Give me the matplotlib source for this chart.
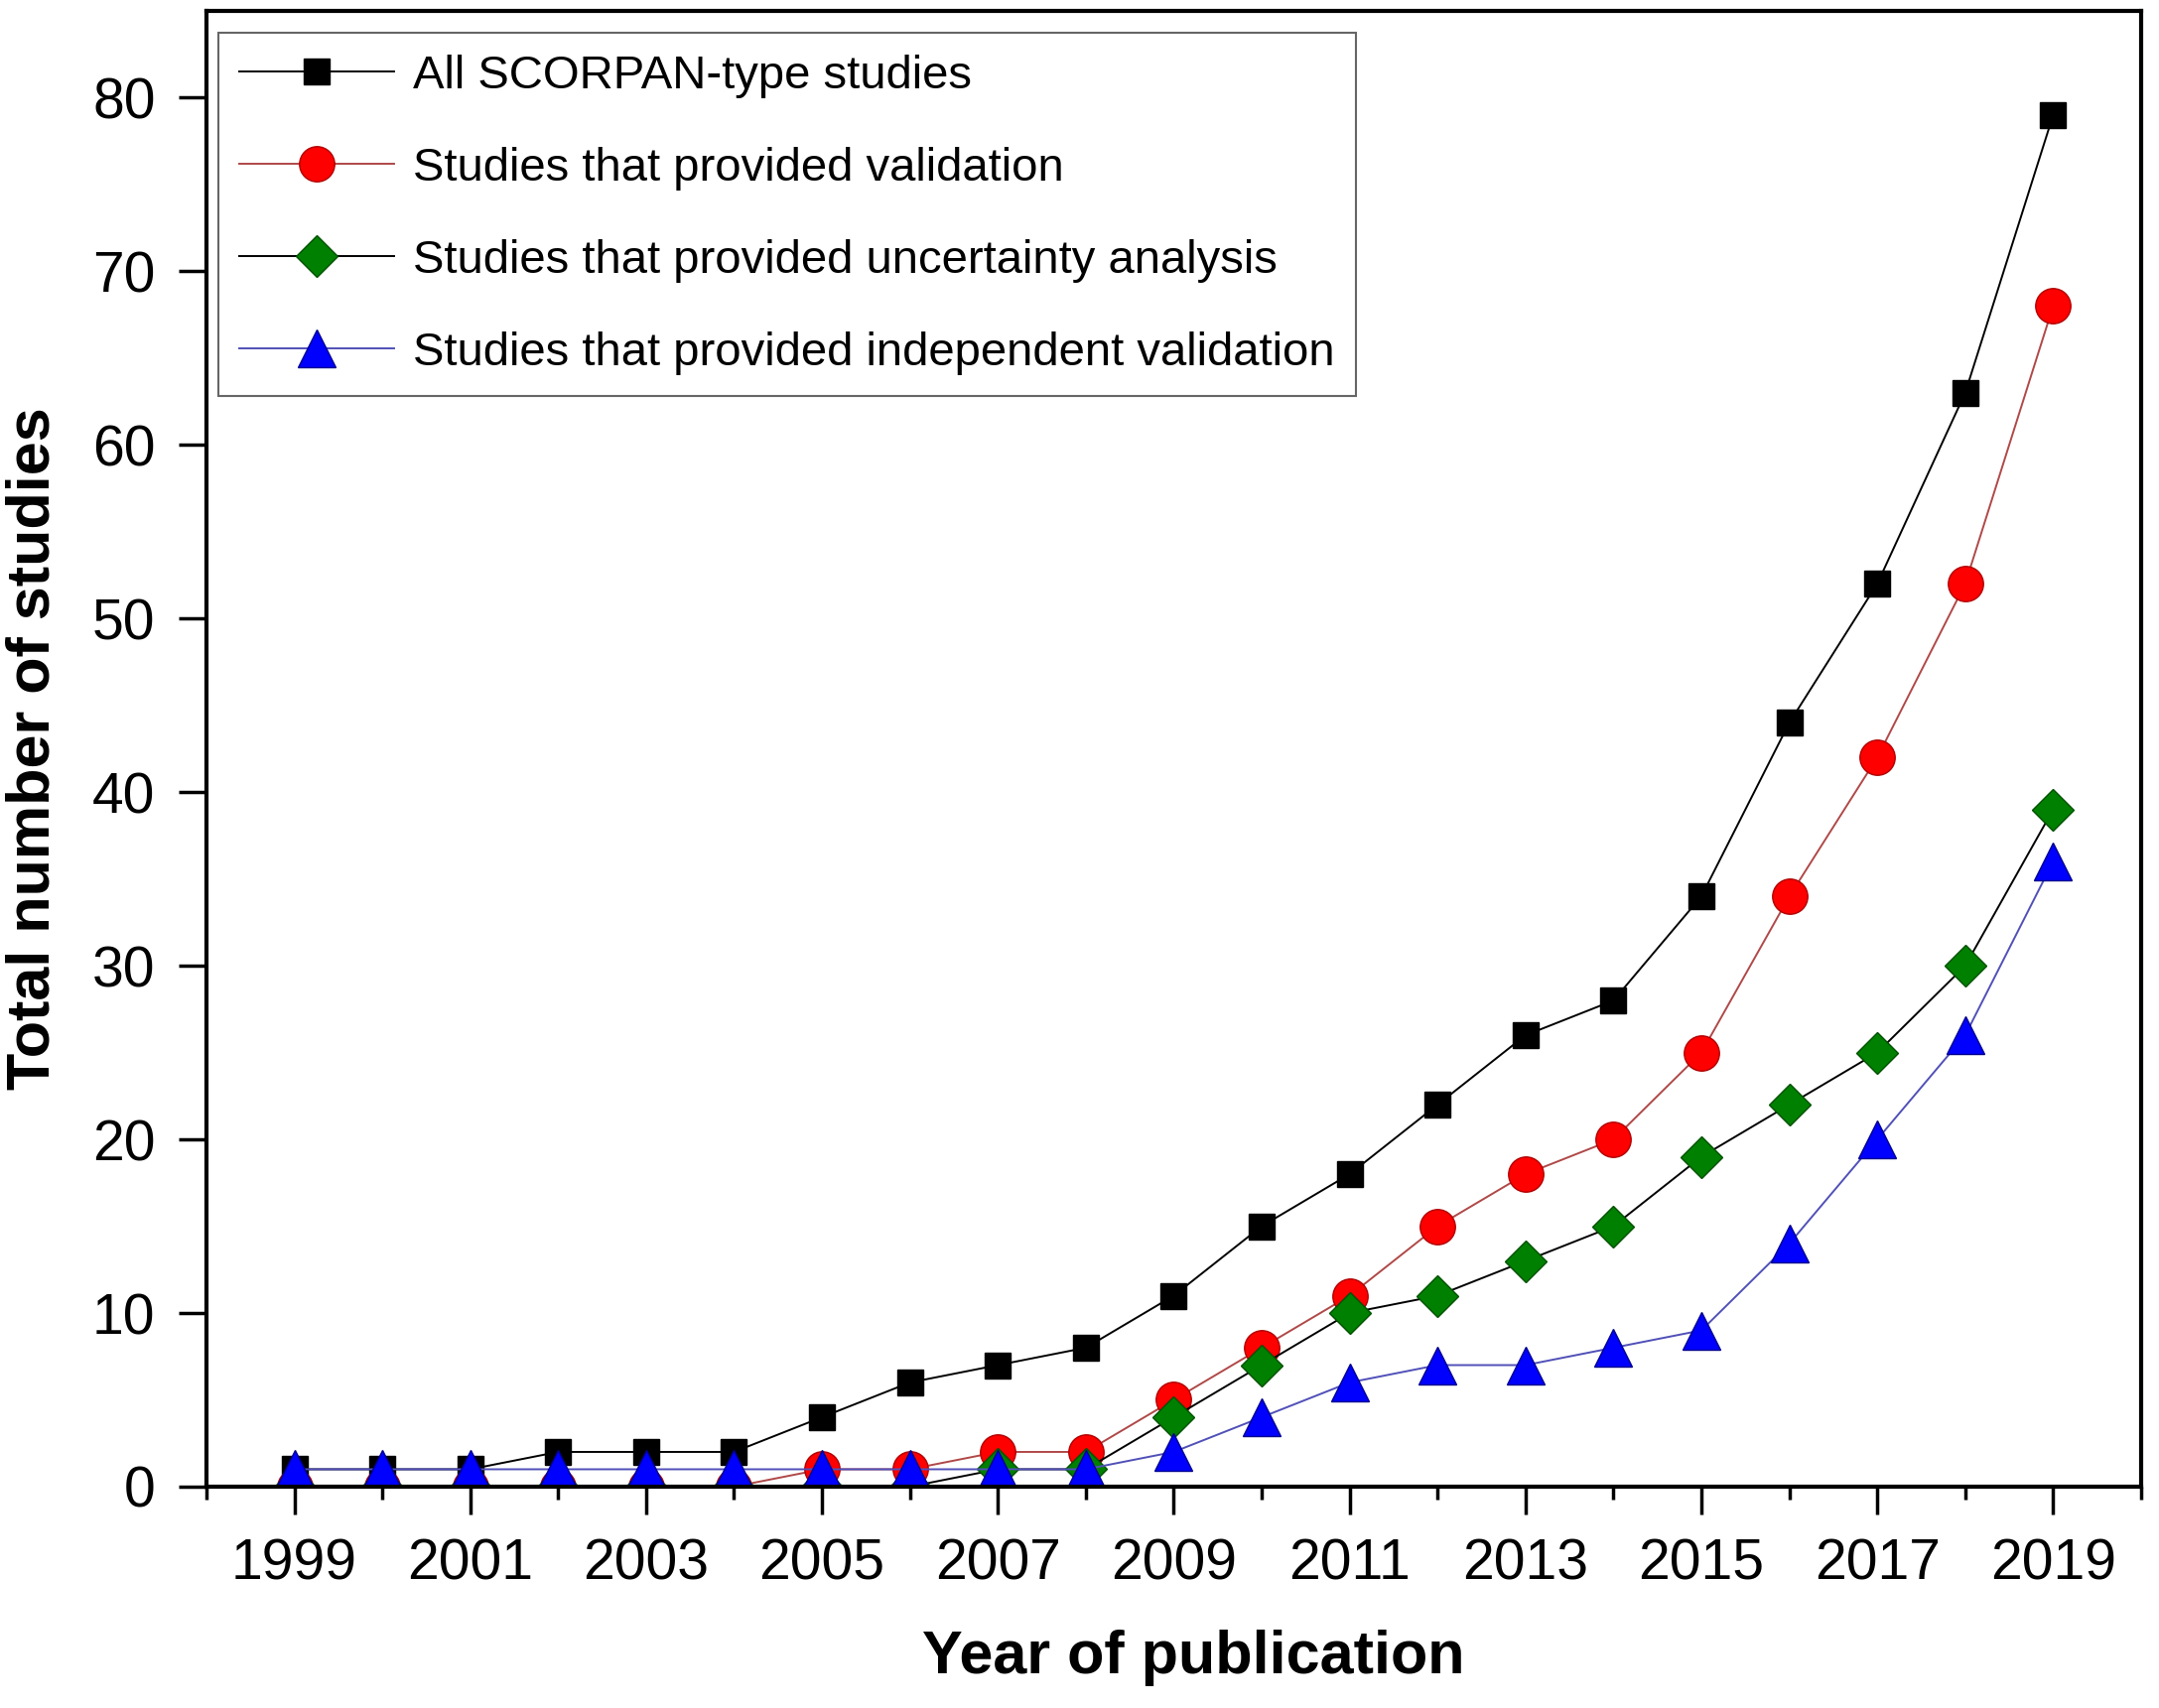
import matplotlib.pyplot as plt

plt.rcParams['font.family'] = ['Liberation Sans', 'DejaVu Sans']

# data
years = list(range(1999, 2020))
all_studies = [1, 1, 1, 2, 2, 2, 4, 6, 7, 8, 11, 15, 18, 22, 26, 28, 34, 44, 52, 63, 79]
validation = [0, 0, 0, 0, 0, 0, 1, 1, 2, 2, 5, 8, 11, 15, 18, 20, 25, 34, 42, 52, 68]
uncertainty = [0, 0, 0, 0, 0, 0, 0, 0, 1, 1, 4, 7, 10, 11, 13, 15, 19, 22, 25, 30, 39]
independent = [1, 1, 1, 1, 1, 1, 1, 1, 1, 1, 2, 4, 6, 7, 7, 8, 9, 14, 20, 26, 36]

labels = ['All SCORPAN-type studies',
          'Studies that provided validation',
          'Studies that provided uncertainty analysis',
          'Studies that provided independent validation']

fig = plt.figure(figsize=(21.75, 17.21), dpi=100)
ax = fig.add_axes([0.0956, 0.1296, 0.8961, 0.864])

lw = 1.4
ax.plot(years, all_studies, color='black', lw=lw, marker='s', ms=19,
        mfc='black', mec='black', mew=1, label=labels[0])
ax.plot(years, validation, color='#b04848', lw=lw, marker='o', ms=25.5,
        mfc='#ff0000', mec='#b00000', mew=1, label=labels[1])
ax.plot(years, uncertainty, color='black', lw=lw, marker='D', ms=21,
        mfc='#008000', mec='#005000', mew=1, label=labels[2])
ax.plot(years, independent, color='#5050b8', lw=lw, marker='^', ms=28,
        mfc='#0000ff', mec='#000090', mew=1, label=labels[3])

ax.set_xlim(1998, 2020)
ax.set_ylim(0, 85)
ax.set_xticks(range(1999, 2020, 2))
ax.set_xticks(range(1998, 2021, 2), minor=True)
ax.set_yticks(range(0, 81, 10))

for s in ax.spines.values():
    s.set_linewidth(3)

ax.tick_params(axis='both', which='major', direction='out', length=20,
               width=2.5, labelsize=41, pad=17)
ax.tick_params(axis='x', which='minor', direction='out', length=9.5, width=2.5)

ax.set_xlabel('Year of publication', fontsize=44, fontweight='bold')
ax.set_ylabel('Total number of studies', fontsize=44, fontweight='bold')
ax.xaxis.set_label_coords(0.510, -0.097)
ax.yaxis.set_label_coords(-0.0746, 0.5)

leg = ax.legend(loc='upper left', bbox_to_anchor=(0.0062, 0.985),
                borderaxespad=0, fontsize=34, handlelength=3.3,
                handletextpad=0.4, labelspacing=1.04, borderpad=0.45,
                fancybox=False)
leg.get_frame().set_edgecolor('#404040')
leg.get_frame().set_linewidth(1.5)

fig.savefig('out.png', dpi=100)
